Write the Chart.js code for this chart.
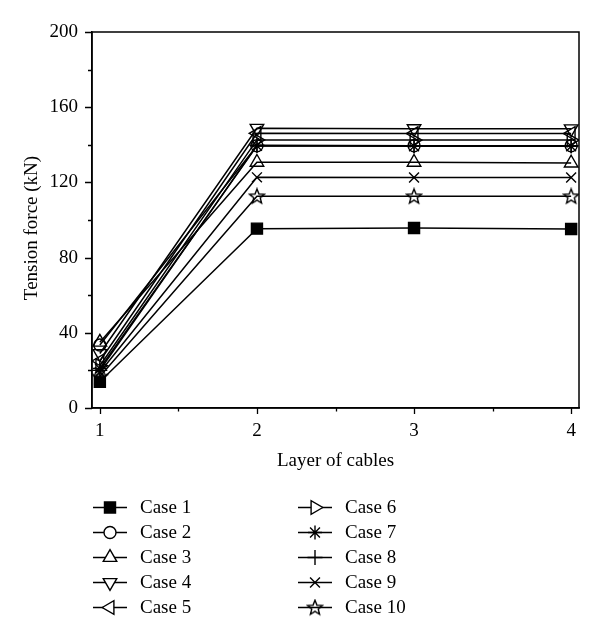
<!DOCTYPE html>
<html>
<head>
<meta charset="utf-8">
<script src="https://cdn.jsdelivr.net/npm/chart.js@4.4.1/dist/chart.umd.min.js"></script>
<style>
html,body{margin:0;padding:0;background:#fff;}
#wrap{width:600px;height:642px;position:relative;}
</style>
</head>
<body>
<div id="wrap"><canvas id="c" width="600" height="642"></canvas></div>
<script>
const layers = [1, 2, 3, 4];
const case1  = [14, 95.4, 95.7, 95.2];
const case2  = [33.5, 139.5, 139.5, 139.5];
const case3  = [35, 130.7, 130.7, 130.3];
const case4  = [29, 148.8, 148.6, 148.5];
const case5  = [25, 146.1, 146.0, 146.0];
const case6  = [22.5, 142.6, 142.5, 142.5];
const case7  = [21, 139.5, 139.2, 139.2];
const case8  = [20, 139.8, 139.5, 139.5];
const case9  = [19, 122.7, 122.6, 122.6];
const case10 = [16.7, 112.6, 112.6, 112.6];
const caseLabels = ['Case 1','Case 2','Case 3','Case 4','Case 5','Case 6','Case 7','Case 8','Case 9','Case 10'];
const yTickValues = [0, 40, 80, 120, 160, 200];
const xTickValues = [1, 2, 3, 4];
const xTitle = 'Layer of cables';
const yTitle = 'Tension force (kN)';

const FONT = "'Liberation Serif', 'DejaVu Serif', serif";

function makeStar(){
  const c = document.createElement('canvas');
  c.width = 18; c.height = 18;
  const g = c.getContext('2d');
  g.beginPath();
  for (let i = 0; i < 10; i++) {
    const r = (i % 2) ? 3.4 : 7.8;
    const a = -Math.PI/2 + i*Math.PI/5;
    const px = 9 + r*Math.cos(a), py = 9.5 + r*Math.sin(a);
    if (i === 0) g.moveTo(px, py); else g.lineTo(px, py);
  }
  g.closePath();
  g.lineWidth = 1.4;
  g.strokeStyle = '#000';
  g.stroke();
  return c;
}
const starImg = makeStar();

const allCases = [case1, case2, case3, case4, case5, case6, case7, case8, case9, case10];
const styles = [
  {ps:'rect', rot:0, r:7.8, fill:'#000'},
  {ps:'circle', rot:0, r:6, fill:'rgba(255,255,255,0)'},
  {ps:'triangle', rot:0, r:7.8, fill:'rgba(255,255,255,0)'},
  {ps:'triangle', rot:180, r:7.8, fill:'rgba(255,255,255,0)'},
  {ps:'triangle', rot:270, r:7.8, fill:'rgba(255,255,255,0)'},
  {ps:'triangle', rot:90, r:7.8, fill:'rgba(255,255,255,0)'},
  {ps:'star', rot:0, r:7, fill:'rgba(255,255,255,0)'},
  {ps:'cross', rot:0, r:7.5, fill:'rgba(255,255,255,0)'},
  {ps:'crossRot', rot:0, r:7, fill:'rgba(255,255,255,0)'},
  {ps:starImg, rot:0, r:8, fill:'rgba(255,255,255,0)'}
];

const datasets = allCases.map((vals, i) => ({
  label: caseLabels[i],
  data: layers.map((x, j) => ({x: x, y: vals[j]})),
  borderColor: '#000',
  borderWidth: 1.5,
  pointStyle: styles[i].ps,
  pointRotation: styles[i].rot,
  pointRadius: styles[i].r,
  pointBorderWidth: 1.4,
  pointBorderColor: '#000',
  pointBackgroundColor: styles[i].fill,
  tension: 0,
  fill: false
}));

const framePlugin = {
  id: 'frame',
  afterDraw(chart) {
    const ctx = chart.ctx;
    const a = chart.chartArea;
    const xs = chart.scales.x, ys = chart.scales.y;
    ctx.save();
    ctx.strokeStyle = '#000';
    ctx.lineWidth = 1.5;
    ctx.strokeRect(a.left, a.top, a.right - a.left, a.bottom - a.top);
    ctx.lineWidth = 1.3;
    ctx.beginPath();
    for (let v = 1; v <= 4.001; v += 0.5) {
      const px = Math.round(xs.getPixelForValue(v)) + 0.5;
      const len = (Math.abs(v - Math.round(v)) < 1e-6) ? 6 : 3.5;
      ctx.moveTo(px, a.bottom);
      ctx.lineTo(px, a.bottom + len);
    }
    for (let v = 0; v <= 200; v += 20) {
      const py = Math.round(ys.getPixelForValue(v)) + 0.5;
      const len = (v % 40 === 0) ? 7 : 4;
      ctx.moveTo(a.left, py);
      ctx.lineTo(a.left - len, py);
    }
    ctx.stroke();

    // y title
    ctx.fillStyle = '#000';
    ctx.font = "19px " + FONT;
    ctx.save();
    ctx.translate(32, 228);
    ctx.rotate(-Math.PI / 2);
    ctx.textAlign = 'center';
    ctx.textBaseline = 'middle';
    ctx.fillText(yTitle, 0, 0);
    ctx.restore();

    // legend
    ctx.font = "19px " + FONT;
    ctx.textBaseline = 'middle';
    ctx.textAlign = 'left';
    for (let i = 0; i < datasets.length; i++) {
      const col = i < 5 ? 0 : 1;
      const row = i % 5;
      const x0 = col ? 298 : 93;
      const cy = 507 + row * 25;
      const cx = x0 + 17;
      const st = styles[i];
      ctx.strokeStyle = '#000';
      ctx.lineWidth = 1.5;
      ctx.beginPath();
      ctx.moveTo(x0, cy + 0.5);
      ctx.lineTo(x0 + 34, cy + 0.5);
      ctx.stroke();
      ctx.lineWidth = 1.4;
      ctx.fillStyle = (i === 0) ? '#000' : '#fff';
      Chart.helpers.drawPoint(ctx, {pointStyle: st.ps, rotation: st.rot, radius: st.r, borderWidth: 1.4}, cx, cy + 0.5);
      ctx.fillStyle = '#000';
      ctx.fillText(caseLabels[i], col ? 345 : 140, cy + 1);
    }
    ctx.restore();
  }
};

new Chart(document.getElementById('c'), {
  type: 'line',
  data: { datasets },
  options: {
    responsive: false,
    animation: false,
    layout: { padding: { left: 0, right: 21, top: 32, bottom: 167 } },
    plugins: { legend: { display: false }, tooltip: { enabled: false } },
    scales: {
      x: {
        type: 'linear',
        min: 0.95, max: 4.05,
        afterBuildTicks(s) { s.ticks = xTickValues.map(v => ({value: v})); },
        afterFit(s) { s.height = 67; },
        grid: { display: false, drawTicks: false },
        border: { display: true, color: '#000', width: 1.5 },
        ticks: { color: '#000', font: { family: FONT, size: 19 }, padding: 12, callback: v => String(v) },
        title: { display: true, text: xTitle, color: '#000', font: { family: FONT, size: 19 }, padding: { top: 0, bottom: 3 } }
      },
      y: {
        type: 'linear',
        min: 0, max: 200,
        afterBuildTicks(s) { s.ticks = yTickValues.map(v => ({value: v})); },
        afterFit(s) { s.width = 92; },
        grid: { display: false, drawTicks: false },
        border: { display: true, color: '#000', width: 1.5 },
        ticks: { color: '#000', font: { family: FONT, size: 19 }, padding: 14, callback: v => String(v) },
        title: { display: false }
      }
    }
  },
  plugins: [framePlugin]
});
</script>
</body>
</html>
